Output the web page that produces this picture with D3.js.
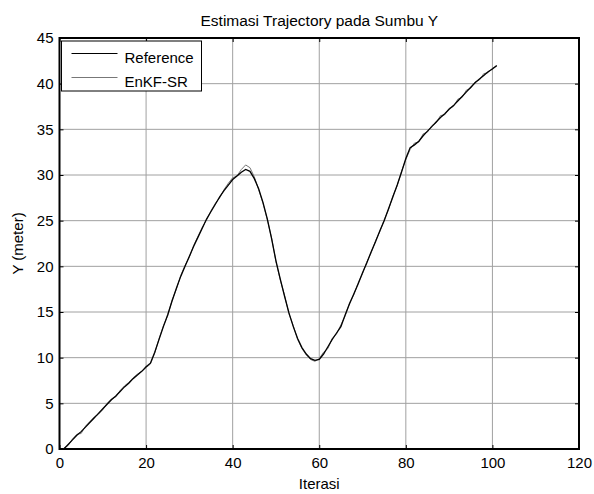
<!DOCTYPE html>
<html>
<head>
<meta charset="utf-8">
<script src="https://cdn.jsdelivr.net/npm/d3@7"></script>
<style>
  body { margin: 0; background: #fff; }
  svg text { font-family: "Liberation Sans", Arial, sans-serif; fill: #000; }
</style>
</head>
<body>
<svg id="chart"></svg>
<script>
// data
var titleText = "Estimasi Trajectory pada Sumbu Y";
var xLabel = "Iterasi";
var yLabel = "Y (meter)";
var seriesNames = ["Reference", "EnKF-SR"];
var xTicks = [0, 20, 40, 60, 80, 100, 120];
var yTicks = [0, 5, 10, 15, 20, 25, 30, 35, 40, 45];

var referenceY = [
  0, 0.5, 1.0, 1.5, 1.9, 2.4, 2.9, 3.4, 3.9, 4.4,
  4.9, 5.4, 5.8, 6.3, 6.8, 7.2, 7.7, 8.1, 8.5, 9.0,
  9.4, 10.6, 12.0, 13.4, 14.7, 16.2, 17.6, 18.9, 20.0, 21.1,
  22.2, 23.2, 24.2, 25.2, 26.0, 26.8, 27.6, 28.3, 28.9, 29.5,
  29.9, 30.3, 30.6, 30.4, 29.6, 28.5, 27.0, 25.2, 23.0, 20.6,
  18.6, 16.7, 14.9, 13.4, 12.1, 11.1, 10.4, 9.9, 9.7, 9.8,
  10.4, 11.2, 12.0, 12.7, 13.4, 14.7, 15.9, 17.0, 18.1, 19.3,
  20.4, 21.6, 22.7, 23.9, 25.0, 26.3, 27.6, 28.9, 30.3, 31.8,
  33.0, 33.3, 33.7, 34.3, 34.8, 35.3, 35.8, 36.3, 36.7, 37.2,
  37.6, 38.1, 38.6, 39.1, 39.6, 40.1, 40.5, 40.9, 41.3, 41.6,
  42.0
];

var enkfY = [
  0.1, 0.4, 1.1, 1.6, 1.7, 2.5, 3.0, 3.5, 3.8, 4.3,
  5.0, 5.5, 5.7, 6.4, 6.9, 7.3, 7.8, 8.2, 8.5, 8.9,
  9.3, 10.5, 12.1, 13.5, 14.6, 16.3, 17.5, 19.0, 20.1, 21.0,
  22.3, 23.3, 24.3, 25.1, 26.1, 26.9, 27.5, 28.4, 29.1, 29.7,
  29.9, 30.6, 31.1, 30.8, 29.8, 28.4, 26.9, 25.1, 23.1, 20.5,
  18.5, 16.8, 14.8, 13.5, 12.0, 11.0, 10.3, 9.8, 9.6, 9.9,
  10.6, 11.0, 12.1, 12.6, 13.6, 14.6, 16.0, 16.9, 18.2, 19.2,
  20.5, 21.5, 22.8, 23.8, 25.1, 26.2, 27.7, 28.8, 30.4, 31.7,
  32.8, 33.5, 33.6, 34.5, 34.7, 35.4, 35.7, 36.5, 36.6, 37.3,
  37.5, 38.3, 38.5, 39.3, 39.5, 40.2, 40.4, 41.1, 41.2, 41.7,
  41.9
];

var width = 594, height = 494;
var margin = {left: 59.5, right: 15, top: 38, bottom: 45};
var plotW = width - margin.left - margin.right;
var plotH = height - margin.top - margin.bottom;
var fontSize = "15px";

var svg = d3.select("#chart")
    .attr("width", width)
    .attr("height", height);

var xScale = d3.scaleLinear().domain([0, 120]).range([0, plotW]);
var yScale = d3.scaleLinear().domain([0, 45]).range([plotH, 0]);

var g = svg.append("g")
    .attr("transform", "translate(" + margin.left + "," + margin.top + ")");

// grid
g.append("g").selectAll("line.gx")
    .data(xTicks.slice(1, -1)).enter().append("line")
    .attr("x1", d => xScale(d)).attr("x2", d => xScale(d))
    .attr("y1", 0).attr("y2", plotH)
    .style("stroke", "#a0a0a0").style("stroke-width", 1);
g.append("g").selectAll("line.gy")
    .data(yTicks.slice(1, -1)).enter().append("line")
    .attr("x1", 0).attr("x2", plotW)
    .attr("y1", d => yScale(d)).attr("y2", d => yScale(d))
    .style("stroke", "#a0a0a0").style("stroke-width", 1);

// axes, ticks pointing inward
var tick = 4;
var xAxis = d3.axisBottom(xScale).tickValues(xTicks).tickSize(-tick).tickPadding(8);
var yAxis = d3.axisLeft(yScale).tickValues(yTicks).tickSize(-tick).tickPadding(6);

g.append("g").attr("transform", "translate(0," + plotH + ")").call(xAxis)
    .call(a => a.select(".domain").remove())
    .selectAll("text").style("font-size", fontSize);
g.append("g").call(yAxis)
    .call(a => a.select(".domain").remove())
    .selectAll("text").style("font-size", fontSize);
g.append("g").call(d3.axisTop(xScale).tickValues(xTicks).tickSize(-tick).tickFormat(""))
    .call(a => a.select(".domain").remove());
g.append("g").attr("transform", "translate(" + plotW + ",0)")
    .call(d3.axisRight(yScale).tickValues(yTicks).tickSize(-tick).tickFormat(""))
    .call(a => a.select(".domain").remove());

// box
g.append("rect")
    .attr("x", 0).attr("y", 0).attr("width", plotW).attr("height", plotH)
    .style("fill", "none").style("stroke", "#000").style("stroke-width", 2);

// lines
var line = d3.line()
    .x((d, i) => xScale(i + 1))
    .y(d => yScale(d));

g.append("path").datum(enkfY)
    .attr("d", line)
    .style("fill", "none").style("stroke", "#777").style("stroke-width", 1);
g.append("path").datum(referenceY)
    .attr("d", line)
    .style("fill", "none").style("stroke", "#000").style("stroke-width", 1.3);

// legend
var leg = g.append("g").attr("transform", "translate(2,3)");
leg.append("rect")
    .attr("width", 140).attr("height", 50)
    .style("fill", "#fff").style("stroke", "#000").style("stroke-width", 1);
var legColors = ["#000", "#777"];
seriesNames.forEach(function(name, i) {
    var yy = 12.5 + i * 24;
    leg.append("line")
        .attr("x1", 10).attr("x2", 56).attr("y1", yy).attr("y2", yy)
        .style("stroke", legColors[i]).style("stroke-width", 1);
    leg.append("text")
        .attr("x", 63).attr("y", yy + 9.5)
        .style("font-size", fontSize)
        .text(name);
});

// titles
svg.append("text")
    .attr("x", margin.left + plotW / 2).attr("y", 26)
    .attr("text-anchor", "middle").style("font-size", "15.5px")
    .text(titleText);
svg.append("text")
    .attr("x", margin.left + plotW / 2).attr("y", 489)
    .attr("text-anchor", "middle").style("font-size", fontSize)
    .text(xLabel);
svg.append("text")
    .attr("transform", "translate(23," + (margin.top + plotH / 2) + ") rotate(-90)")
    .attr("text-anchor", "middle").style("font-size", fontSize)
    .text(yLabel);
</script>
</body>
</html>
